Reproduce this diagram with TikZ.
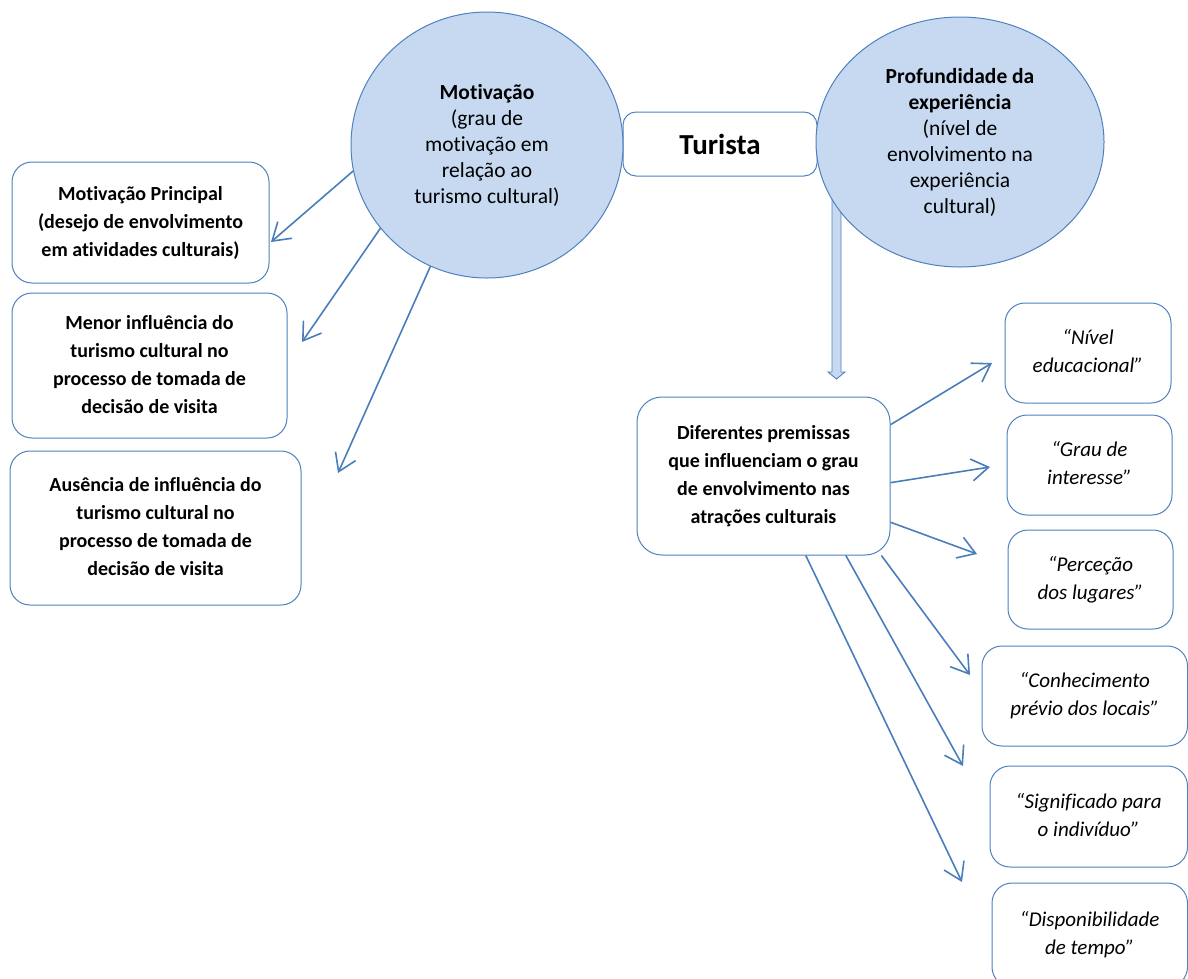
\documentclass[tikz,border=0pt]{standalone}
\usepackage{fontspec}
\setmainfont{Carlito}[Ligatures=NoCommon]
\usetikzlibrary{arrows.meta,calc,shapes.geometric}
\definecolor{bord}{RGB}{79,129,189}
\definecolor{fillb}{RGB}{198,217,241}
\definecolor{arr}{RGB}{74,126,187}
\newcommand{\liftt}[2]{\raisebox{#1}{\begin{tabular}{@{}c@{}}#2\end{tabular}}}
\begin{document}
\begin{tikzpicture}[x=1pt,y=-1pt,
  box/.style={draw=bord, line width=1pt, fill=white, rounded corners=20pt, inner sep=0pt},
  boldtxt/.style={font=\fontsize{20}{28}\selectfont\bfseries},
  itxt/.style={font=\fontsize{21}{28}\selectfont\itshape},
  bubble/.style={ellipse, draw=bord, line width=1pt, fill=fillb, align=center, inner sep=0pt,
                 font=\fontsize{21.5}{26}\selectfont},
  conn/.style={draw=arr, line width=1.6pt, -{Straight Barb[length=17pt,width=22pt]}}]
\useasboundingbox (0,0) rectangle (1188,978);
\clip (0,0) rectangle (1188,978);

% left boxes
\node[box, boldtxt, minimum width=257pt, minimum height=121pt] (b1) at (140.5,222.5)
  {\liftt{3pt}{Motivação Principal\\(desejo de envolvimento\\em atividades culturais)}};
\node[box, boldtxt, minimum width=275pt, minimum height=145pt] (b2) at (149.5,365.5)
  {\liftt{0pt}{Menor influência do\\turismo cultural no\\processo de tomada de\\decisão de visita}};
\node[box, boldtxt, minimum width=291pt, minimum height=154pt] (b3) at (155.5,528)
  {\liftt{4pt}{Ausência de influência do\\turismo cultural no\\processo de tomada de\\decisão de visita}};

% Turista
\node[box, rounded corners=13pt, font=\fontsize{29}{34}\selectfont\bfseries,
      minimum width=194pt, minimum height=64pt] (tur) at (720,144) {Turista};

% double arrow (under ellipse)
\coordinate (dtop) at (836.5,195);
\coordinate (dtip) at (836.5,379);
\draw[draw=bord, fill=fillb, line width=0.9pt, line join=miter]
  ($(dtop)+(-4.5,0)$) -- ($(dtip)+(-4.5,-7)$) -- ($(dtip)+(-8.5,-7)$) -- (dtip)
  -- ($(dtip)+(8.5,-7)$) -- ($(dtip)+(4.5,-7)$) -- ($(dtop)+(4.5,0)$);

% bubbles
\node[bubble, minimum width=272pt, minimum height=266pt] (mot) at (487,145)
  {\textbf{Motivação}\\(grau de\\motivação em\\relação ao\\turismo cultural)};
\node[bubble, minimum width=288pt, minimum height=250pt] (prof) at (960,142)
  {\textbf{Profundidade da}\\\textbf{experiência}\\(nível de\\envolvimento na\\experiência\\cultural)};

% Diferentes
\node[box, boldtxt, rounded corners=25pt, minimum width=253pt, minimum height=158pt] (dif) at (763.5,476)
  {\liftt{6pt}{Diferentes premissas\\que influenciam o grau\\de envolvimento nas\\atrações culturais}};

% right boxes
\node[box, itxt, minimum width=166pt, minimum height=100pt] (niv) at (1088,353)
  {\liftt{6pt}{“Nível\\educacional”}};
\node[box, itxt, minimum width=165pt, minimum height=100pt] (grau) at (1089.5,465)
  {\liftt{6pt}{“Grau de\\interesse”}};
\node[box, itxt, minimum width=165pt, minimum height=99pt] (perc) at (1090.5,579.5)
  {\liftt{6pt}{“Perceção\\dos lugares”}};
\node[box, itxt, minimum width=205.5pt, minimum height=100pt] (conh) at (1084.75,696)
  {\liftt{6pt}{“Conhecimento\\prévio dos locais”}};
\node[box, itxt, minimum width=197.5pt, minimum height=101pt] (sig) at (1088.75,816.5)
  {\liftt{6pt}{“Significado para\\o indivíduo”}};
\node[box, itxt, minimum width=195.5pt, minimum height=104pt] (disp) at (1089.75,935)
  {\liftt{7pt}{“Disponibilidade\\de tempo”}};

% free ends
\coordinate (e1) at (271,242);
\coordinate (e2) at (302,342);
\coordinate (e3) at (338,473);
\coordinate (r1) at (992,363);
\coordinate (r2) at (990,467);
\coordinate (r3) at (977,554);
\coordinate (r4) at (970,675);
\coordinate (r5) at (963,766);
\coordinate (r6) at (962,882);

% connectors
\draw[conn] (mot.191) -- (e1);
\draw[conn] (mot.218) -- (e2);
\draw[conn] (mot.245) -- (e3);
\draw[conn] (dif.22) -- (r1);
\draw[conn] (dif.-3) -- (r2);
\draw[conn] (dif.-20) -- (r3);
\draw[conn] (dif.-34.6) -- (r4);
\draw[conn] (dif.-44) -- (r5);
\draw[conn] (dif.-62.3) -- (r6);
\end{tikzpicture}
\end{document}
